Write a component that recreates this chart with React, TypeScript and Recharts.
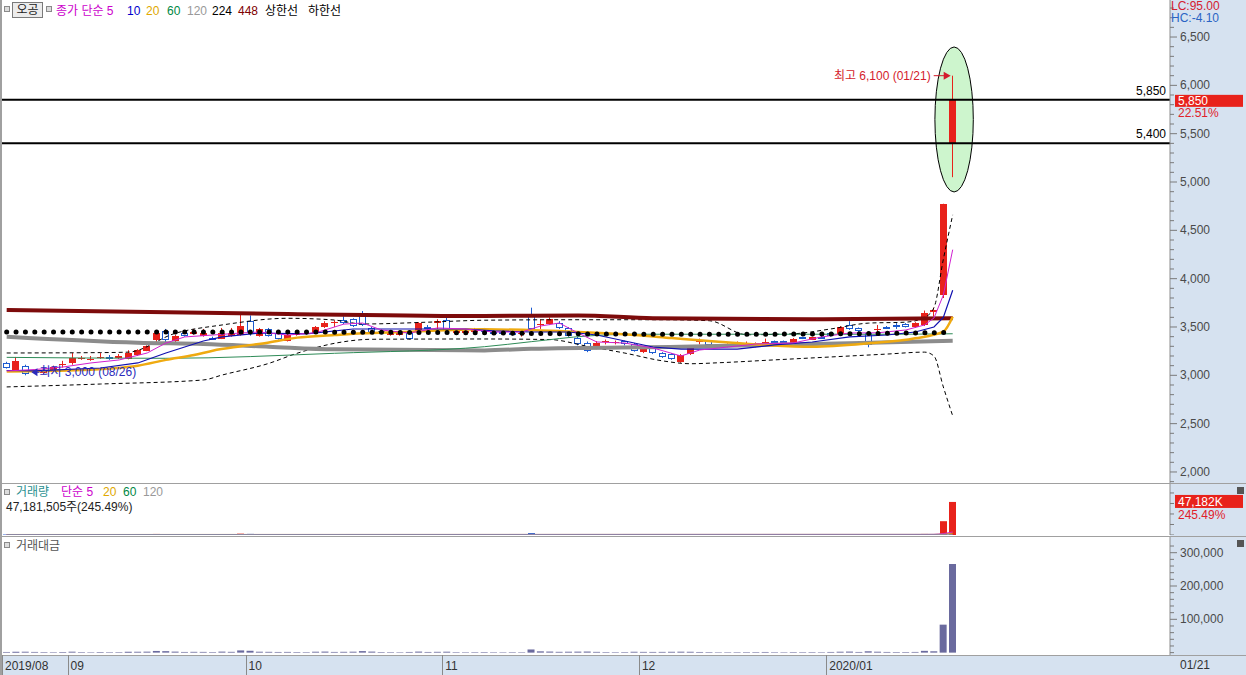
import React from 'react';
import { ComposedChart, Bar, Line, XAxis, YAxis, ReferenceLine, ReferenceArea, ReferenceDot } from 'recharts';

// daily candles, 2019/08/22 .. 2020/01/21
const opens = [
  3130, 3055, 3100, 3030, 3020, 3060, 3110, 3130, 3170, 3160,
  3180, 3190, 3180, 3170, 3210, 3255, 3370, 3460, 3360, 3440,
  3430, 3410, 3385, 3380, 3410, 3420, 3560, 3410, 3480, 3440,
  3360, 3420, 3430, 3440, 3500, 3540, 3570, 3580, 3645, 3490,
  3460, 3420, 3420, 3440, 3450, 3500, 3540, 3570, 3440, 3440,
  3450, 3480, 3450, 3445, 3440, 3430, 3610, 3520, 3530, 3540,
  3490, 3385, 3335, 3285, 3340, 3335, 3355, 3320, 3245, 3280,
  3230, 3220, 3140, 3220, 3340, 3355, 3310, 3300, 3315, 3315,
  3300, 3305, 3355, 3355, 3335, 3395, 3370, 3400, 3440, 3430,
  3520, 3485, 3440, 3470, 3500, 3520, 3530, 3500, 3520, 3660,
  3830, 5400,
];
const highs = [
  3140, 3190, 3110, 3060, 3060, 3100, 3150, 3230, 3200, 3200,
  3230, 3210, 3220, 3260, 3270, 3310, 3450, 3480, 3420, 3450,
  3480, 3480, 3400, 3490, 3490, 3645, 3620, 3490, 3490, 3450,
  3430, 3450, 3460, 3510, 3560, 3570, 3610, 3590, 3665, 3500,
  3470, 3460, 3450, 3450, 3550, 3520, 3580, 3600, 3480, 3470,
  3490, 3490, 3460, 3450, 3445, 3450, 3700, 3580, 3600, 3560,
  3500, 3400, 3350, 3355, 3370, 3360, 3360, 3335, 3290, 3290,
  3240, 3230, 3220, 3300, 3380, 3360, 3315, 3330, 3350, 3350,
  3340, 3380, 3360, 3360, 3385, 3400, 3400, 3410, 3445, 3510,
  3560, 3495, 3450, 3520, 3510, 3540, 3540, 3550, 3670, 3700,
  4775, 6100,
];
const lows = [
  3070, 3050, 3000, 3020, 3010, 3050, 3080, 3110, 3160, 3150,
  3170, 3160, 3170, 3165, 3200, 3250, 3335, 3335, 3330, 3400,
  3420, 3400, 3370, 3375, 3400, 3410, 3410, 3400, 3400, 3370,
  3350, 3410, 3420, 3430, 3490, 3500, 3530, 3500, 3510, 3430,
  3430, 3410, 3410, 3370, 3440, 3450, 3480, 3460, 3430, 3430,
  3440, 3440, 3420, 3420, 3410, 3400, 3470, 3480, 3520, 3480,
  3400, 3310, 3240, 3270, 3320, 3320, 3310, 3245, 3230, 3220,
  3180, 3160, 3130, 3210, 3320, 3300, 3295, 3290, 3300, 3300,
  3290, 3300, 3330, 3330, 3330, 3375, 3365, 3380, 3400, 3420,
  3470, 3445, 3290, 3430, 3480, 3480, 3495, 3490, 3510, 3610,
  3800, 5050,
];
const closes = [
  3080, 3150, 3015, 3060, 3050, 3090, 3120, 3180, 3180, 3170,
  3190, 3170, 3195, 3230, 3265, 3305, 3440, 3370, 3410, 3410,
  3450, 3440, 3380, 3440, 3440, 3510, 3440, 3480, 3410, 3380,
  3420, 3440, 3440, 3500, 3540, 3550, 3545, 3510, 3520, 3440,
  3440, 3450, 3445, 3380, 3540, 3490, 3560, 3470, 3470, 3460,
  3480, 3450, 3440, 3430, 3425, 3440, 3480, 3535, 3585, 3490,
  3410, 3325, 3250, 3335, 3350, 3345, 3325, 3255, 3285, 3230,
  3190, 3170, 3210, 3295, 3350, 3315, 3300, 3320, 3325, 3325,
  3330, 3345, 3335, 3340, 3375, 3380, 3395, 3385, 3405, 3500,
  3480, 3455, 3315, 3480, 3490, 3500, 3505, 3540, 3645, 3675,
  4775, 5850,
];
// volume in thousands of shares
const volumesK = [
  650, 820, 900, 700, 560, 480, 620, 900, 520, 430,
  580, 470, 500, 780, 820, 900, 1500, 1300, 900, 600,
  700, 650, 500, 900, 700, 1900, 1600, 800, 700, 600,
  650, 500, 450, 800, 900, 600, 700, 800, 1300, 900,
  500, 450, 400, 600, 900, 600, 700, 800, 450, 400,
  450, 500, 400, 380, 350, 400, 2700, 1100, 900, 700,
  800, 900, 1000, 700, 500, 450, 500, 800, 700, 650,
  700, 800, 900, 800, 600, 500, 400, 420, 450, 480,
  500, 600, 450, 400, 500, 450, 480, 420, 600, 800,
  900, 600, 1200, 800, 600, 500, 500, 600, 1500, 1100,
  19700, 47182,
];
// trading value, million won
const amounts = [
  2000, 2550, 2750, 2130, 1700, 1480, 1930, 2850, 1650, 1360,
  1840, 1490, 1590, 2500, 2660, 2950, 5050, 4450, 3050, 2060,
  2400, 2240, 1700, 3080, 2410, 6650, 5600, 2760, 2400, 2040,
  2210, 1720, 1550, 2780, 3160, 2120, 2490, 2840, 4600, 3120,
  1730, 1550, 1380, 2050, 3140, 2080, 2450, 2800, 1550, 1380,
  1560, 1720, 1380, 1300, 1200, 1380, 9500, 3880, 3200, 2450,
  2760, 3000, 3270, 2310, 1670, 1500, 1660, 2630, 2280, 2120,
  2250, 2560, 2850, 2610, 2010, 1670, 1320, 1390, 1490, 1590,
  1660, 2000, 1500, 1340, 1680, 1520, 1620, 1420, 2060, 2770,
  3150, 2080, 4040, 2780, 2100, 1750, 1760, 2110, 5350, 4040,
  84000, 266000,
];

const monthStarts = [0, 7, 26, 47, 68, 88];
const monthLabels = ['2019/08', '09', '10', '11', '12', '2020/01'];

type Pt = [number, number];
// moving averages / bands read at sample candles: [candle index, price]
const ma5Pts: Pt[] = [[0, 3045], [3, 3060], [6, 3086], [9, 3128], [12, 3159], [15, 3231], [17, 3334], [19, 3397], [22, 3417], [25, 3438], [27, 3448], [30, 3417], [33, 3440], [36, 3530], [38, 3541], [40, 3469], [43, 3438], [46, 3490], [49, 3479], [52, 3448], [55, 3448], [57, 3510], [59, 3541], [61, 3438], [63, 3345], [66, 3334], [69, 3283], [72, 3200], [74, 3262], [77, 3293], [80, 3324], [84, 3335], [87, 3397], [90, 3438], [93, 3440], [96, 3469], [98, 3521], [99, 3593], [100, 3830], [101, 4300]];
const ma10Pts: Pt[] = [[0, 3050], [3, 3045], [10, 3076], [14, 3128], [17, 3231], [19, 3293], [21, 3355], [23, 3397], [27, 3438], [32, 3428], [37, 3479], [41, 3479], [45, 3479], [49, 3479], [52, 3459], [56, 3448], [60, 3448], [63, 3417], [66, 3355], [69, 3293], [72, 3272], [78, 3272], [82, 3314], [86, 3345], [90, 3397], [94, 3417], [97, 3448], [99, 3500], [100, 3600], [101, 3880]];
const ma20Pts: Pt[] = [[0, 3040], [8, 3055], [14, 3100], [17, 3160], [20, 3210], [22, 3255], [25, 3300], [28, 3340], [31, 3390], [35, 3417], [38, 3435], [42, 3448], [51, 3476], [61, 3448], [67, 3417], [71, 3386], [76, 3348], [81, 3314], [86, 3296], [92, 3331], [97, 3383], [100, 3452], [101, 3606]];
const ma60Pts: Pt[] = [[0, 3186], [17, 3176], [35, 3228], [51, 3296], [56, 3348], [62, 3407], [67, 3425], [80, 3425], [95, 3425], [101, 3430]];
const ma120Pts: Pt[] = [[0, 3400], [14, 3338], [21, 3324], [28, 3296], [35, 3269], [51, 3258], [56, 3275], [72, 3296], [90, 3331], [101, 3358]];
const ma224Pts: Pt[] = [[0, 3448], [25, 3448], [50, 3440], [60, 3430], [75, 3425], [90, 3430], [101, 3445]];
const ma448Pts: Pt[] = [[0, 3676], [30, 3635], [51, 3614], [61, 3620], [69, 3590], [86, 3579], [101, 3590]];
const upperPts: Pt[] = [[0, 3231], [10, 3235], [13, 3240], [18, 3435], [23, 3521], [30, 3590], [35, 3572], [38, 3531], [45, 3550], [51, 3570], [60, 3575], [70, 3575], [75, 3565], [79, 3420], [84, 3430], [88, 3480], [92, 3540], [96, 3550], [98, 3600], [99, 3700], [100, 4200], [101, 4660]];
const lowerPts: Pt[] = [[0, 2880], [10, 2910], [21, 2952], [23, 3003], [28, 3124], [31, 3228], [35, 3331], [39, 3373], [51, 3376], [58, 3370], [62, 3300], [66, 3230], [70, 3150], [73, 3120], [76, 3130], [82, 3160], [88, 3190], [94, 3220], [98, 3240], [99, 3200], [100, 2880], [101, 2580]];
const volMa5Pts: Pt[] = [[0, 700], [98, 800], [99, 900], [100, 2000], [101, 4300]];
const volMa20Pts: Pt[] = [[0, 750], [99, 800], [100, 1500], [101, 2800]];
const volMa120Pts: Pt[] = [[0, 650], [101, 900]];

const RED = '#e8221b';
const BLUE = '#1d5bd0';
const X_DOMAIN: [number, number] = [-0.5, 124.2];
const FONT = "'Liberation Sans', 'Noto Sans CJK KR', sans-serif";

const sparse: Record<string, Pt[]> = {
  ma5: ma5Pts, ma10: ma10Pts, ma20: ma20Pts, ma60: ma60Pts, ma120: ma120Pts,
  ma224: ma224Pts, ma448: ma448Pts, upper: upperPts, lower: lowerPts,
  vma5: volMa5Pts, vma20: volMa20Pts, vma120: volMa120Pts,
};
const maps = Object.fromEntries(Object.entries(sparse).map(([k, v]) => [k, new Map(v)]));

const data = opens.map((o, i) => {
  const row: any = {
    i, open: o, high: highs[i], low: lows[i], close: closes[i],
    range: [lows[i], highs[i]], up: closes[i] >= o, vol: volumesK[i], amt: amounts[i],
  };
  for (const k of Object.keys(maps)) row[k] = maps[k].has(i) ? maps[k].get(i) : null;
  return row;
});

const priceTicks = Array.from({ length: 50 }, (_, k) => 1900 + k * 100);
const volTicks = [0, 15000, 30000, 45000, 60000];
const amtTicks = Array.from({ length: 17 }, (_, k) => k * 20000);

const Candle = (p: any) => {
  let { x, y, width, height } = p;
  const { open, close, high, low } = p.payload;
  if (height < 0) { y += height; height = -height; }
  const up = close >= open;
  const col = up ? RED : BLUE;
  const k = height / (high - low);
  const yOf = (v: number) => y + (high - v) * k;
  const left = Math.round(x);
  const w = Math.round(width);
  const cx = left + Math.floor(w / 2) + 0.5;
  const t = Math.round(yOf(Math.max(open, close)));
  const b = Math.round(yOf(Math.min(open, close)));
  return (
    <g>
      <line x1={cx} x2={cx} y1={yOf(high)} y2={yOf(low)} stroke={col} strokeWidth={1} />
      {up
        ? <rect x={left} y={t} width={w} height={Math.max(1, b - t)} fill={col} />
        : <rect x={left + 0.5} y={t + 0.5} width={w - 1} height={Math.max(1, b - t - 1)} fill="#fff" stroke={col} />}
    </g>
  );
};

const VolBar = (p: any) => {
  let { x, y, width, height } = p;
  if (height < 0) { y += height; height = -height; }
  return <rect x={Math.round(x)} y={y} width={Math.round(width)} height={height} fill={p.payload.up ? RED : BLUE} />;
};

const makeTick = (isMajor: (v: number) => boolean, fmt: (v: number) => string) => (p: any) => {
  const { x, y, payload } = p;
  const v = payload.value;
  const major = isMajor(v);
  return (
    <g>
      <line x1={x} x2={x + (major ? 7 : 4)} y1={y} y2={y} stroke="#7a7a7a" />
      {major && <text x={x + 10} y={y + 4} fontSize={12} fill="#4a4a4a">{fmt(v)}</text>}
    </g>
  );
};

const fmtNum = (v: number) => v.toLocaleString('en-US');

const Ellipse = (p: any) => (
  <ellipse cx={p.x + p.width / 2} cy={p.y + p.height / 2} rx={p.width / 2} ry={p.height / 2}
    fill="#cdf5cd" stroke="#000" strokeWidth={1} />
);

const HighMark = (p: any) => {
  const { cx, cy } = p;
  return (
    <g>
      <text x={cx - 22} y={cy + 4} textAnchor="end" fontSize={12} fill="#d41c2c">최고 6,100 (01/21)</text>
      <line x1={cx - 19} x2={cx - 8} y1={cy} y2={cy} stroke="#d41c2c" />
      <polygon points={`${cx - 9},${cy - 4} ${cx - 2},${cy} ${cx - 9},${cy + 4}`} fill="#d41c2c" />
    </g>
  );
};

const LowMark = (p: any) => {
  const { cx, cy } = p;
  return (
    <g>
      <polygon points={`${cx + 6},${cy - 3} ${cx + 12},${cy - 7} ${cx + 12},${cy + 1}`} fill="#2b2bbb" />
      <line x1={cx + 11} x2={cx + 14} y1={cy - 3} y2={cy - 3} stroke="#2b2bbb" />
      <text x={cx + 14} y={cy + 1} fontSize={12} fill="#2b2bbb">최저 3,000 (08/26)</text>
    </g>
  );
};

const lineLabel = (txt: string) => (p: any) => {
  const { x, y, width } = p.viewBox;
  return <text x={x + width - 4} y={y - 5} textAnchor="end" fontSize={12} fill="#000">{txt}</text>;
};

const lastPriceLabel = (p: any) => {
  const { x, y, width } = p.viewBox;
  const r = x + width;
  return (
    <g>
      <text x={r - 4} y={y - 5} textAnchor="end" fontSize={12} fill="#000">5,850</text>
      <rect x={r + 5} y={y - 5} width={68} height={12} fill={RED} />
      <text x={r + 8} y={y + 5} fontSize={12} fill="#fff">5,850</text>
      <text x={r + 8} y={y + 17} fontSize={12} fill="#e0202a">22.51%</text>
    </g>
  );
};

const volLabel = (p: any) => {
  const { x, y, width } = p.viewBox;
  const r = x + width;
  return (
    <g>
      <rect x={r + 5} y={y - 7} width={68} height={13} fill={RED} />
      <text x={r + 8} y={y + 4} fontSize={12} fill="#fff">47,182K</text>
      <text x={r + 8} y={y + 17} fontSize={12} fill="#e0202a">245.49%</text>
    </g>
  );
};

const MonthTick = (p: any) => {
  const { x, y, payload } = p;
  const idx = monthStarts.indexOf(payload.value + 0.5);
  return (
    <g>
      <line x1={Math.round(x) + 0.5} x2={Math.round(x) + 0.5} y1={y} y2={y + 20} stroke="#8a8a8a" />
      <text x={x + 3} y={y + 15} fontSize={12} fill="#333">{monthLabels[idx]}</text>
    </g>
  );
};

const T = ({ x, y, c, lh = 14, children }: any) => (
  <span style={{ position: 'absolute', left: x, top: y, color: c, fontSize: 12, lineHeight: `${lh}px`, whiteSpace: 'nowrap' }}>{children}</span>
);
const Box = ({ x, y, w, h, bg, border }: any) => (
  <div style={{ position: 'absolute', left: x, top: y, width: w, height: h, background: bg, border, boxSizing: 'border-box' }} />
);

const margin = { top: 0, right: 0, bottom: 0, left: 2 };

export default function App() {
  return (
    <div style={{ position: 'absolute', left: 0, top: 0, width: 1246, height: 675, background: '#d6e2f0', overflow: 'hidden', fontFamily: FONT }}>
      {/* panel backgrounds and separators */}
      <Box x={2} y={0} w={1168} h={483} bg="#fff" />
      <Box x={2} y={484} w={1168} h={52} bg="#fff" />
      <Box x={2} y={537} w={1168} h={118} bg="#fff" />
      <Box x={0} y={0} w={2} h={675} bg="#a0a0a0" />
      <Box x={0} y={483} w={1246} h={1} bg="#a0a0a0" />
      <Box x={0} y={536} w={1246} h={1} bg="#a0a0a0" />
      <Box x={0} y={655} w={1246} h={1} bg="#a0a0a0" />

      <div style={{ position: 'absolute', left: 0, top: 0 }}>
        <ComposedChart width={1246} height={483} data={data} margin={margin}>
          <XAxis type="number" dataKey="i" domain={X_DOMAIN} allowDataOverflow hide />
          <YAxis orientation="right" width={76} domain={[1886, 6883]} allowDataOverflow ticks={priceTicks}
            interval={0} tickSize={0} tickMargin={0} tickLine={false} axisLine={{ stroke: '#8c8c8c' }}
            tick={makeTick((v) => v % 500 === 0, fmtNum)} />
          <ReferenceArea x1={99.1} x2={103.2} y1={4897} y2={6397} shape={Ellipse} />
          <ReferenceLine y={5850} stroke="#000" strokeWidth={2} label={lastPriceLabel} />
          <ReferenceLine y={5400} stroke="#000" strokeWidth={2} label={lineLabel('5,400')} />
          <Line dataKey="upper" type="monotone" stroke="#000" strokeWidth={1} strokeDasharray="4 3" dot={false} connectNulls isAnimationActive={false} />
          <Line dataKey="lower" type="monotone" stroke="#000" strokeWidth={1} strokeDasharray="4 3" dot={false} connectNulls isAnimationActive={false} />
          <Line dataKey="ma448" type="monotone" stroke="#7d0b0b" strokeWidth={4} dot={false} connectNulls isAnimationActive={false} />
          <Line dataKey="ma120" type="monotone" stroke="#8c8c8c" strokeWidth={4} dot={false} connectNulls isAnimationActive={false} />
          <Line dataKey="ma60" type="monotone" stroke="#2e8b57" strokeWidth={1} dot={false} connectNulls isAnimationActive={false} />
          <Bar dataKey="range" barSize={7} shape={Candle} isAnimationActive={false} />
          <Line dataKey="ma20" type="monotone" stroke="#efaa10" strokeWidth={2.5} dot={false} connectNulls isAnimationActive={false} />
          <Line dataKey="ma10" type="linear" stroke="#1010b0" strokeWidth={1.2} dot={false} connectNulls isAnimationActive={false} />
          <Line dataKey="ma5" type="linear" stroke="#d020d0" strokeWidth={1} dot={false} connectNulls isAnimationActive={false} />
          <Line dataKey="ma224" type="monotone" stroke="#000" strokeWidth={5} strokeDasharray="0 9.37" strokeLinecap="round" dot={false} connectNulls isAnimationActive={false} />
          <ReferenceDot x={101} y={6100} r={0} shape={HighMark} />
          <ReferenceDot x={2} y={3000} r={0} shape={LowMark} />
        </ComposedChart>
      </div>

      <div style={{ position: 'absolute', left: 0, top: 484 }}>
        <ComposedChart width={1246} height={51} data={data} margin={margin}>
          <XAxis type="number" dataKey="i" domain={X_DOMAIN} allowDataOverflow hide />
          <YAxis orientation="right" width={76} domain={[0, 72800]} allowDataOverflow ticks={volTicks}
            interval={0} tickSize={0} tickMargin={0} tickLine={false} axisLine={{ stroke: '#8c8c8c' }}
            tick={makeTick(() => false, fmtNum)} />
          <ReferenceLine y={47182} stroke="none" label={volLabel} />
          <Bar dataKey="vol" barSize={7} shape={VolBar} isAnimationActive={false} />
          <Line dataKey="vma20" type="monotone" stroke="#e8b400" strokeWidth={1} dot={false} connectNulls isAnimationActive={false} />
          <Line dataKey="vma5" type="monotone" stroke="#d020d0" strokeWidth={1} dot={false} connectNulls isAnimationActive={false} />
          <Line dataKey="vma120" type="monotone" stroke="#8a8aa0" strokeWidth={1} dot={false} connectNulls isAnimationActive={false} />
        </ComposedChart>
      </div>

      <div style={{ position: 'absolute', left: 0, top: 537 }}>
        <ComposedChart width={1246} height={138} data={data} margin={margin}>
          <XAxis type="number" dataKey="i" domain={X_DOMAIN} allowDataOverflow height={20}
            ticks={monthStarts.map((m) => m - 0.5)} interval={0} tickSize={0} tickMargin={0}
            tickLine={false} axisLine={false} tick={MonthTick} />
          <YAxis orientation="right" width={76} domain={[-7100, 347100]} allowDataOverflow ticks={amtTicks}
            interval={0} tickSize={0} tickMargin={0} tickLine={false} axisLine={{ stroke: '#8c8c8c' }}
            tick={makeTick((v) => v > 0 && v % 100000 === 0, fmtNum)} />
          <Bar dataKey="amt" barSize={7} fill="#6a6a9e" isAnimationActive={false} />
        </ComposedChart>
      </div>

      {/* price panel header */}
      <Box x={4} y={6} w={6} h={6} bg="#dcdcdc" border="1px solid #8a8a8a" />
      <div style={{ position: 'absolute', left: 12, top: 2, width: 31, height: 16, background: '#ececec', border: '1px solid #7a7a7a', boxSizing: 'border-box', fontSize: 12, lineHeight: '14px', textAlign: 'center', color: '#222' }}>오공</div>
      <Box x={46} y={6} w={6} h={6} bg="#dcdcdc" border="1px solid #8a8a8a" />
      <T x={56} y={4} c="#cc00cc">종가 단순 5</T>
      <T x={127} y={4} c="#0000cc">10</T>
      <T x={146} y={4} c="#e0a800">20</T>
      <T x={167} y={4} c="#008844">60</T>
      <T x={187} y={4} c="#999999">120</T>
      <T x={212} y={4} c="#000">224</T>
      <T x={238} y={4} c="#800000">448</T>
      <T x={265} y={4} c="#000">상한선</T>
      <T x={308} y={4} c="#000">하한선</T>
      <T x={1171} y={1} lh={11} c="#d42030">LC:95.00</T>
      <T x={1171} y={13} lh={11} c="#2a64c4">HC:-4.10</T>

      {/* volume panel header */}
      <Box x={4} y={489} w={6} h={6} bg="#dcdcdc" border="1px solid #8a8a8a" />
      <T x={16} y={485} c="#2a9090">거래량</T>
      <T x={61} y={485} c="#cc00cc">단순 5</T>
      <T x={103} y={485} c="#e0a800">20</T>
      <T x={123} y={485} c="#008844">60</T>
      <T x={143} y={485} c="#999999">120</T>
      <T x={6} y={500} c="#222">47,181,505주(245.49%)</T>
      <Box x={1237} y={487} w={7} h={7} bg="#555" />

      {/* trading value header */}
      <Box x={4} y={542} w={6} h={6} bg="#dcdcdc" border="1px solid #8a8a8a" />
      <T x={16} y={539} c="#555">거래대금</T>
      <Box x={1237} y={540} w={7} h={7} bg="#555" />

      <T x={1180} y={658} c="#333">01/21</T>
    </div>
  );
}
